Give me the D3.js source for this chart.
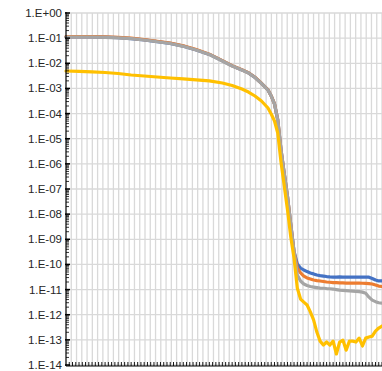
<!DOCTYPE html>
<html><head><meta charset="utf-8">
<script src="https://cdn.jsdelivr.net/npm/d3@7"></script>
<style>body{margin:0;background:#fff}svg{display:block}</style>
</head><body><svg id="c" width="382" height="371"></svg>
<script>
const categoryCount = 98;
const xIdx = [0,4,8,12,16,20,24,28,32,36,40,44,48,51,54,56,58,60,62,63,64,65,66,67,68,69,
  70,71,72,73,74,75,76,77,78,79,80,81,82,83,84,85,86,87,88,89,90,91,92,93,94,95,96,97];
const gray = [1.11e-1,1.11e-1,1.11e-1,1.08e-1,1.03e-1,9.5e-2,8.43e-2,7.21e-2,6.12e-2,4.73e-2,3.37e-2,2.23e-2,1.23e-2,
  7.8e-3,5.41e-3,4.1e-3,2.72e-3,1.57e-3,8.65e-4,4.99e-4,2.4e-4,5.55e-5,3.56e-6,3.94e-7,4.8e-8,3.69e-9,
  3.11e-10,3.78e-11,2.19e-11,1.66e-11,1.45e-11,1.32e-11,1.26e-11,1.2e-11,1.15e-11,1.13e-11,1.1e-11,1.08e-11,1.05e-11,
  1.0e-11,9.5e-12,9.3e-12,9.1e-12,8.9e-12,8.7e-12,8.5e-12,8.3e-12,7.9e-12,7.2e-12,5.0e-12,3.8e-12,3.3e-12,3.0e-12,2.9e-12];
const blue = [1.12e-1,1.12e-1,1.12e-1,1.09e-1,1.04e-1,9.6e-2,8.5e-2,7.3e-2,6.2e-2,4.8e-2,3.4e-2,2.25e-2,1.24e-2,
  7.9e-3,5.45e-3,4.15e-3,2.75e-3,1.58e-3,8.7e-4,5.0e-4,2.42e-4,5.6e-5,3.6e-6,4.0e-7,4.9e-8,3.75e-9,
  3.3e-10,1.04e-10,7.2e-11,6.0e-11,5.2e-11,4.6e-11,4.2e-11,3.8e-11,3.6e-11,3.45e-11,3.3e-11,3.2e-11,3.15e-11,
  3.15e-11,3.2e-11,3.15e-11,3.15e-11,3.1e-11,3.1e-11,3.15e-11,3.15e-11,3.15e-11,3.1e-11,3.1e-11,2.75e-11,2.4e-11,2.2e-11,2.2e-11];
const orange = [1.15e-1,1.15e-1,1.16e-1,1.13e-1,1.08e-1,1.0e-1,8.8e-2,7.5e-2,6.4e-2,4.95e-2,3.5e-2,2.3e-2,1.27e-2,
  8.0e-3,5.5e-3,4.2e-3,2.78e-3,1.6e-3,8.8e-4,5.05e-4,2.45e-4,5.7e-5,3.65e-6,4.05e-7,4.95e-8,3.8e-9,
  3.2e-10,7.2e-11,4.6e-11,3.45e-11,2.9e-11,2.63e-11,2.4e-11,2.28e-11,2.19e-11,2.09e-11,2.0e-11,1.95e-11,1.9e-11,
  1.88e-11,1.85e-11,1.85e-11,1.82e-11,1.8e-11,1.8e-11,1.8e-11,1.8e-11,1.78e-11,1.75e-11,1.73e-11,1.66e-11,1.52e-11,1.38e-11,1.32e-11];
const yellow = [4.93e-3,4.8e-3,4.58e-3,4.3e-3,3.92e-3,3.42e-3,3.12e-3,2.85e-3,2.6e-3,2.41e-3,2.2e-3,2.01e-3,1.64e-3,
  1.31e-3,9.5e-4,7.2e-4,5.0e-4,3.16e-4,1.66e-4,9.6e-5,5.06e-5,1.69e-5,1.18e-6,1.31e-7,1.46e-8,1.23e-9,
  1.8e-10,1.15e-11,4.2e-12,3.16e-12,2.43e-12,1.29e-12,6.2e-13,2.04e-13,8.9e-14,6.2e-14,8.2e-14,6.2e-14,8.9e-14,
  2.74e-14,8.2e-14,9.8e-14,3.9e-14,8.9e-14,8.9e-14,8.2e-14,1.17e-13,5.7e-14,1.17e-13,1.29e-13,1.41e-13,2.24e-13,2.95e-13,3.55e-13];
const tickLabels = ["1.E+00","1.E-01","1.E-02","1.E-03","1.E-04","1.E-05","1.E-06","1.E-07",
  "1.E-08","1.E-09","1.E-10","1.E-11","1.E-12","1.E-13","1.E-14"];
const seriesList = [
  {name:"blue", values: blue, color:"#4472C4"},
  {name:"orange", values: orange, color:"#ED7D31"},
  {name:"gray", values: gray, color:"#A5A5A5"},
  {name:"yellow", values: yellow, color:"#FFC000"}
];

const svg = d3.select("#c");
const L = 66, R = 382, T = 13, B = 365;
const x = d3.scaleLinear().domain([0, categoryCount - 1]).range([L, R]);
const y = d3.scaleLog().domain([1e-14, 1]).range([B, T]);
const decades = tickLabels.map((t, i) => Math.pow(10, -i));

// vertical gridlines
const gridCount = 60;
const gx = d3.scaleLinear().domain([0, gridCount]).range([L, R]);
svg.append("g").selectAll("line").data(d3.range(1, gridCount + 1)).join("line")
  .attr("x1", d => gx(d)).attr("x2", d => gx(d)).attr("y1", T).attr("y2", B)
  .attr("stroke", "#d9d9d9").attr("stroke-width", 1.3);
// horizontal gridlines
svg.append("g").selectAll("line").data(decades).join("line")
  .attr("x1", L).attr("x2", R).attr("y1", d => y(d)).attr("y2", d => y(d))
  .attr("stroke", "#d9d9d9").attr("stroke-width", 1.3);

// series
const line = d3.line().x((d, i) => x(xIdx[i])).y(d => y(d));
svg.append("g").selectAll("path").data(seriesList).join("path")
  .attr("d", s => line(s.values))
  .attr("fill", "none").attr("stroke", s => s.color)
  .attr("stroke-width", 3.2).attr("stroke-linejoin", "round").attr("stroke-linecap", "round");

// y axis
const minor = [];
for (let e = -14; e < 0; e++) for (let m = 2; m <= 9; m++) minor.push(m * Math.pow(10, e));
const yAxis = svg.append("g");
yAxis.append("line").attr("x1", L).attr("x2", L).attr("y1", T - 1).attr("y2", B + 1)
  .attr("stroke", "#000").attr("stroke-width", 1.2);
yAxis.selectAll("line.mi").data(minor).join("line").attr("class", "mi")
  .attr("x1", L).attr("x2", L + 3).attr("y1", d => y(d)).attr("y2", d => y(d))
  .attr("stroke", "#000").attr("stroke-width", 0.8);
yAxis.selectAll("line.ma").data(decades).join("line").attr("class", "ma")
  .attr("x1", L - 1).attr("x2", L + 4).attr("y1", d => y(d)).attr("y2", d => y(d))
  .attr("stroke", "#000").attr("stroke-width", 1.5);
yAxis.selectAll("text").data(tickLabels).join("text")
  .attr("x", L - 4).attr("y", (t, i) => y(decades[i]))
  .attr("dy", "0.35em").attr("text-anchor", "end")
  .attr("font-family", "'Liberation Sans', Arial, sans-serif")
  .attr("font-size", 11.5).attr("fill", "#262626").text(t => t);

// x axis
const xAxis = svg.append("g");
xAxis.append("line").attr("x1", L).attr("x2", R).attr("y1", B + 1).attr("y2", B + 1)
  .attr("stroke", "#000").attr("stroke-width", 1.2);
xAxis.selectAll("line.t").data(d3.range(1, categoryCount)).join("line").attr("class", "t")
  .attr("x1", d => x(d)).attr("x2", d => x(d)).attr("y1", B - 3).attr("y2", B + 1)
  .attr("stroke", "#000").attr("stroke-width", 0.9);
</script></body></html>
